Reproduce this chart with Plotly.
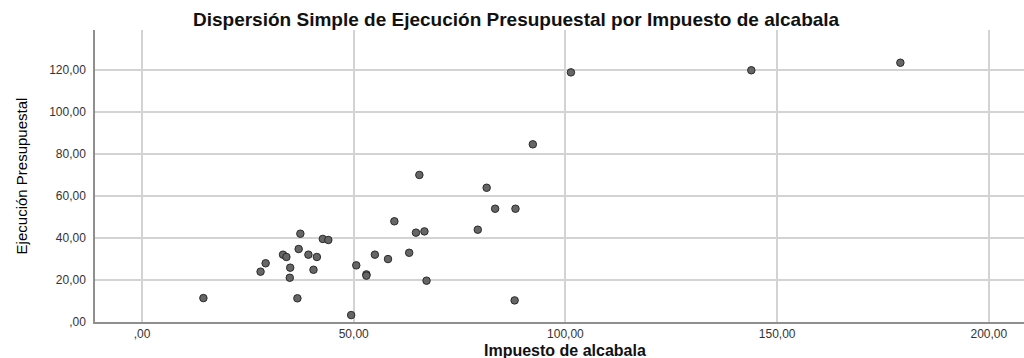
import plotly.graph_objects as go

# Data
impuesto_alcabala = [14.5, 28.0, 29.2, 33.3, 34.1, 34.9, 35.0, 36.7, 37.0, 37.4,
                     39.3, 40.5, 41.3, 42.7, 44.0, 49.4, 50.6, 53.0, 53.0, 55.0,
                     58.1, 59.6, 63.1, 64.7, 66.7, 67.2, 65.5, 79.3, 81.4, 83.4,
                     88.2, 88.0, 92.3, 101.3, 143.9, 179.1]
ejecucion_presupuestal = [11.4, 24.0, 28.0, 32.1, 31.0, 21.1, 25.9, 11.3, 34.8, 42.1,
                          32.1, 24.9, 31.0, 39.6, 39.1, 3.3, 27.0, 22.7, 22.1, 32.1,
                          30.0, 48.0, 33.0, 42.6, 43.2, 19.7, 70.1, 44.0, 64.0, 54.0,
                          54.0, 10.3, 84.7, 119.0, 120.0, 123.6]

x_tickvals = [0, 50, 100, 150, 200]
x_ticktext = [",00", "50,00", "100,00", "150,00", "200,00"]
y_tickvals = [0, 20, 40, 60, 80, 100, 120]
y_ticktext = [",00", "20,00", "40,00", "60,00", "80,00", "100,00", "120,00"]

title_text = "Dispersión Simple de Ejecución Presupuestal por Impuesto de alcabala"
x_title = "Impuesto de alcabala"
y_title = "Ejecución Presupuestal"

fig = go.Figure()
fig.add_trace(go.Scatter(
    x=impuesto_alcabala,
    y=ejecucion_presupuestal,
    mode="markers",
    marker=dict(size=7.5, color="#666666", line=dict(color="#2a2a2a", width=1)),
    showlegend=False,
    hoverinfo="x+y",
))

grid_color = "#d3d3d3"
axis_color = "#8f8f8f"
tick_font = dict(family="Liberation Sans, Arial, sans-serif", size=12, color="#333333")

fig.update_layout(
    width=1024,
    height=358,
    margin=dict(l=95, r=0, t=30, b=36, autoexpand=False),
    paper_bgcolor="white",
    plot_bgcolor="white",
    title=dict(
        text="<b>" + title_text + "</b>",
        x=0.504, xref="container", xanchor="center",
        y=1 - 19 / 358, yref="container", yanchor="middle",
        font=dict(family="Liberation Sans, Arial, sans-serif", size=19, color="#111111"),
    ),
    xaxis=dict(
        range=[-11.1, 208.3],
        tickvals=x_tickvals,
        ticktext=x_ticktext,
        tickfont=tick_font,
        showgrid=True,
        gridcolor=grid_color,
        gridwidth=1.5,
        zeroline=False,
        showline=True,
        linecolor=axis_color,
        linewidth=1.5,
        ticks="",
        automargin=False,
    ),
    yaxis=dict(
        range=[0, 139.2],
        tickvals=y_tickvals,
        ticktext=y_ticktext,
        tickfont=tick_font,
        showgrid=True,
        gridcolor=grid_color,
        gridwidth=1.5,
        zeroline=False,
        showline=True,
        linecolor=axis_color,
        linewidth=1.5,
        ticks="",
        ticklabelstandoff=5,
        automargin=False,
        title=dict(
            text=y_title,
            font=dict(family="Liberation Sans, Arial, sans-serif", size=15, color="#000000"),
            standoff=18,
        ),
    ),
    annotations=[dict(
        text="<b>" + x_title + "</b>",
        xref="paper", x=0.506, xanchor="center",
        yref="paper", y=-28.5 / 292, yanchor="middle",
        showarrow=False,
        font=dict(family="Liberation Sans, Arial, sans-serif", size=16, color="#111111"),
    )],
)

fig.write_html(
    "out.html",
    config={"displayModeBar": False},
    post_script="document.body.style.margin='0';document.body.style.overflow='hidden';",
)
